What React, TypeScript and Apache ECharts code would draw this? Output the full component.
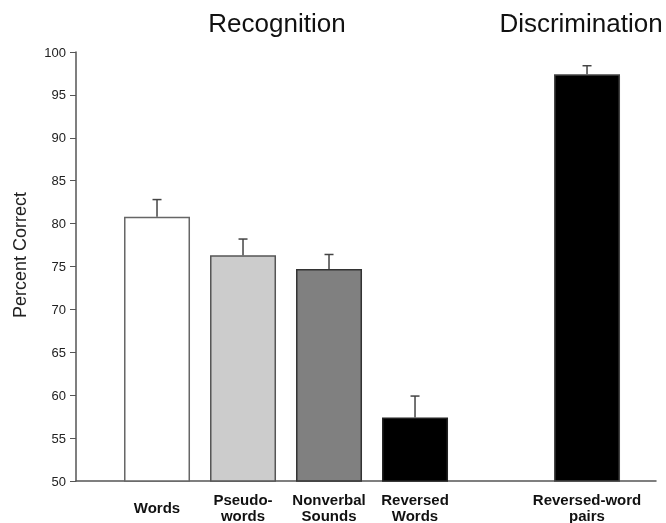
import React, { useEffect, useRef } from "react";
import * as echarts from "echarts";

const positions = [0, 1, 2, 3, 5];
const labels = ["Words", "Pseudo-\nwords", "Nonverbal\nSounds", "Reversed\nWords", "Reversed-word\npairs"];
const means = [80.8, 76.3, 74.7, 57.4, 97.4];
const errorTops = [82.8, 78.2, 76.4, 59.9, 98.4];
const fills = ["#ffffff", "#cccccc", "#808080", "#000000", "#000000"];
const borders = ["#666666", "#555555", "#333333", "#222222", "#444444"];
const yTicks = { min: 50, max: 100, interval: 5 };
const groupTitles = ["Recognition", "Discrimination"];
const yAxisTitle = "Percent Correct";

const FONT = "'Liberation Sans', Arial, Helvetica, sans-serif";

export default function App() {
  const ref = useRef<HTMLDivElement>(null);
  useEffect(() => {
    if (!ref.current) return;
    document.body.style.margin = "0";
    const chart = echarts.init(ref.current, null, { renderer: "svg" });
    const barData = positions.map((p, i) => ({
      value: [p, means[i]],
      itemStyle: { color: fills[i], borderColor: borders[i], borderWidth: 1.5 },
    }));
    const errData = positions.map((p, i) => [p, means[i], errorTops[i]]);
    chart.setOption({
      animation: false,
      textStyle: { fontFamily: FONT },
      grid: { left: 76, right: 10, top: 52, bottom: 41 },
      graphic: [
        {
          type: "text",
          x: 277,
          y: 23,
          style: { text: groupTitles[0], font: `26px ${FONT}`, fill: "#111", textAlign: "center", textVerticalAlign: "middle" },
        },
        {
          type: "text",
          x: 581,
          y: 23,
          style: { text: groupTitles[1], font: `26px ${FONT}`, fill: "#111", textAlign: "center", textVerticalAlign: "middle" },
        },
        {
          type: "text",
          x: 20,
          y: 255,
          rotation: Math.PI / 2,
          style: { text: yAxisTitle, font: `18px ${FONT}`, fill: "#222", textAlign: "center", textVerticalAlign: "middle" },
        },
      ],
      xAxis: {
        type: "value",
        min: -0.942,
        max: 5.802,
        splitLine: { show: false },
        axisLine: { show: true, onZero: false, lineStyle: { color: "#555", width: 1.5 } },
        axisTick: { show: false },
        axisLabel: {
          customValues: positions,
          formatter: (v: number) => {
            const idx = positions.indexOf(Math.round(v));
            return idx >= 0 ? labels[idx] : "";
          },
          fontFamily: FONT,
          fontWeight: "bold",
          fontSize: 15,
          lineHeight: 16,
          color: "#111",
          margin: 26,
          verticalAlign: "middle",
          align: "center",
        },
      },
      yAxis: {
        type: "value",
        min: yTicks.min,
        max: yTicks.max,
        interval: yTicks.interval,
        splitLine: { show: false },
        axisLine: { show: true, onZero: false, lineStyle: { color: "#555", width: 1.5 } },
        axisTick: { show: true, length: 6, lineStyle: { color: "#555" } },
        axisLabel: { fontFamily: FONT, fontSize: 13, color: "#222", margin: 10 },
      },
      series: [
        {
          type: "bar",
          data: barData,
          barWidth: 66,
        },
        {
          type: "custom",
          data: errData,
          z: 3,
          renderItem: (params: any, api: any) => {
            const x = api.value(0);
            const base = api.coord([x, api.value(1)]);
            const top = api.coord([x, api.value(2)]);
            const style = { stroke: "#444", lineWidth: 1.5 };
            return {
              type: "group",
              children: [
                { type: "line", shape: { x1: base[0], y1: base[1], x2: top[0], y2: top[1] }, style },
                { type: "line", shape: { x1: top[0] - 4.5, y1: top[1], x2: top[0] + 4.5, y2: top[1] }, style },
              ],
            };
          },
        },
      ],
    });
    return () => chart.dispose();
  }, []);
  return <div ref={ref} style={{ position: "fixed", left: 0, top: 0, width: 666, height: 523 }} />;
}
